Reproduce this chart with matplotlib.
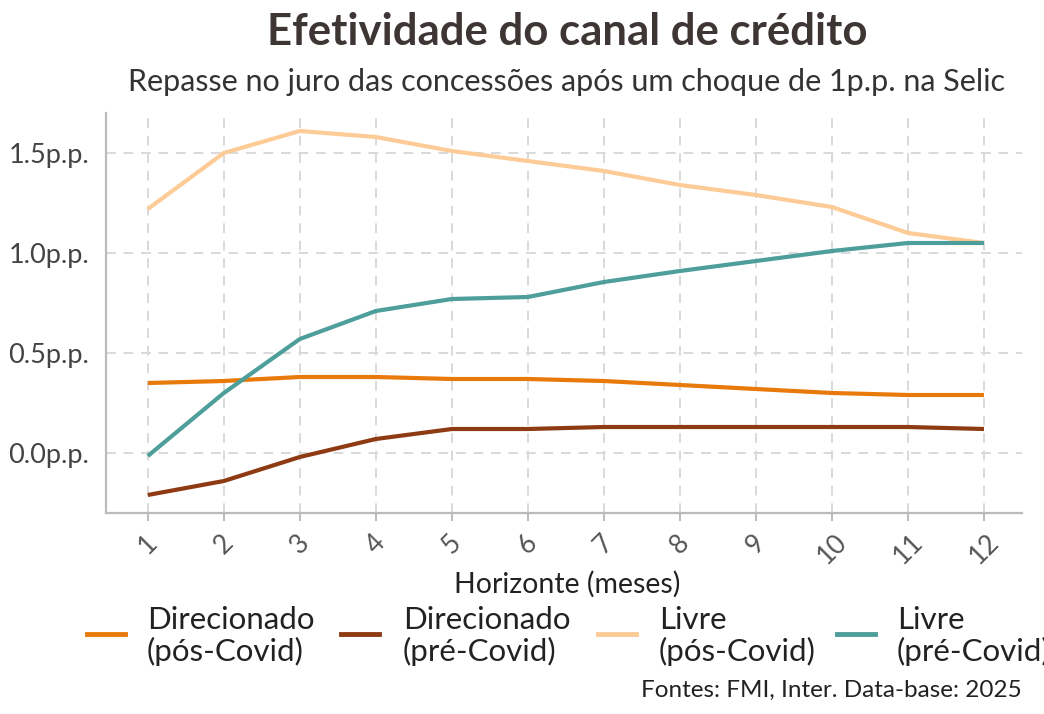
import matplotlib
matplotlib.use("Agg")
import matplotlib.pyplot as plt
from matplotlib.lines import Line2D

plt.rcParams['font.family'] = ['Lato', 'DejaVu Sans']

horizonte = list(range(1, 13))
direcionado_pos = [0.35, 0.36, 0.38, 0.38, 0.37, 0.37, 0.36, 0.34, 0.32, 0.30, 0.29, 0.29]
direcionado_pre = [-0.21, -0.14, -0.02, 0.07, 0.12, 0.12, 0.13, 0.13, 0.13, 0.13, 0.13, 0.12]
livre_pos = [1.22, 1.50, 1.61, 1.58, 1.51, 1.46, 1.41, 1.34, 1.29, 1.23, 1.10, 1.05]
livre_pre = [-0.015, 0.30, 0.57, 0.71, 0.77, 0.78, 0.855, 0.91, 0.96, 1.01, 1.05, 1.05]
y_ticks = [0.0, 0.5, 1.0, 1.5]
y_labels = ["0.0p.p.", "0.5p.p.", "1.0p.p.", "1.5p.p."]
series_names = ["Direcionado\n(pós-Covid)", "Direcionado\n(pré-Covid)", "Livre\n(pós-Covid)", "Livre\n(pré-Covid)"]
colors = ["#E87A0C", "#8E3B13", "#FDCB96", "#4E9E9C"]

W, H = 1044, 714
fig = plt.figure(figsize=(W / 100, H / 100), dpi=100)
ax = fig.add_axes([106 / W, 1 - 513 / H, (1022 - 106) / W, (513 - 113) / H])

for vals, c in zip([direcionado_pos, direcionado_pre, livre_pos, livre_pre], colors):
    ax.plot(horizonte, vals, color=c, lw=3, solid_capstyle='butt', zorder=3)

ax.set_xlim(0.45, 12.5)
ax.set_ylim(-0.3, 1.7)
ax.set_xticks(horizonte)
ax.set_xticklabels([str(h) for h in horizonte], rotation=45, ha='center', va='top',
                   fontsize=19, color='#555555')
ax.set_yticks(y_ticks)
ax.set_yticklabels(y_labels, fontsize=19.5, color='#444444')
ax.grid(True, color='#D9D9D9', linestyle=(0, (5, 4)), lw=1.4, zorder=0)
for s in ['top', 'right']:
    ax.spines[s].set_visible(False)
for s in ['left', 'bottom']:
    ax.spines[s].set_color('#BBBBBB')
    ax.spines[s].set_linewidth(1.6)
ax.tick_params(axis='both', colors='#BBBBBB', length=6, width=1.4)
ax.tick_params(axis='y', length=0, pad=12)
ax.tick_params(axis='x', pad=6)
for t in ax.get_xticklabels():
    t.set_color('#555555')
for t in ax.get_yticklabels():
    t.set_color('#444444')

fig.text(567 / W, 1 - 32 / H, "Efetividade do canal de crédito", ha='center', va='center',
         fontsize=31.5, fontweight='bold', color='#3E3535')
fig.text(567 / W, 1 - 82 / H, "Repasse no juro das concessões após um choque de 1p.p. na Selic",
         ha='center', va='center', fontsize=22, color='#333333')
fig.text(567 / W, 1 - 584 / H, "Horizonte (meses)", ha='center', va='center',
         fontsize=20.5, color='#222222')

handle_x = [87, 341, 598, 837]
text_x = [147, 403, 659, 897]
for hx, tx, name, c in zip(handle_x, text_x, series_names, colors):
    fig.add_artist(Line2D([hx / W, (hx + 38) / W], [1 - 634 / H, 1 - 634 / H],
                          color=c, lw=3.5, transform=fig.transFigure))
    fig.text(tx / W, 1 - 636 / H, name, ha='left', va='center', fontsize=22.5,
             color='#222222', linespacing=1.15)

fig.text(1022 / W, 1 - 690 / H, "Fontes: FMI, Inter. Data-base: 2025", ha='right', va='center',
         fontsize=17.5, color='#222222')

fig.savefig("out.png", dpi=100, facecolor='white')
